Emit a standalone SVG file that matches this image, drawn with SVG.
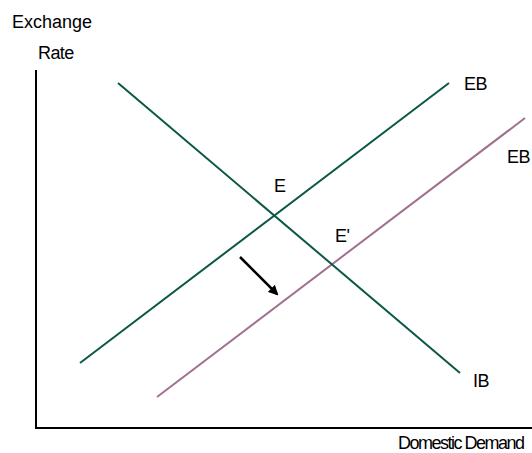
<svg xmlns="http://www.w3.org/2000/svg" width="532" height="453" viewBox="0 0 532 453">
<style>
text{font-family:"Liberation Sans",Arial,sans-serif;font-size:18px;fill:#000;letter-spacing:-0.6px}
.g{stroke:#0b5746;stroke-width:2;fill:none}
.p{stroke:#a0708f;stroke-width:2;fill:none}
.ax{stroke:#000;stroke-width:2;fill:none}
</style>
<defs>
<marker id="ah" markerWidth="10" markerHeight="10" refX="8" refY="5" orient="auto" markerUnits="userSpaceOnUse"><path d="M0,0 L10,5 L0,10 z" fill="#000"/></marker>
</defs>
<g id="axes">
<path class="ax" d="M36,70 V428 H532"/>
<text x="12" y="28" style="letter-spacing:0">Exchange</text>
<text x="38" y="59">Rate</text>
<text x="398" y="449" style="letter-spacing:-1.5px">Domestic Demand</text>
</g>
<g id="connectors">
<line id="EB1" class="g" x1="80" y1="363" x2="449" y2="83"/>
<line id="EB2" class="p" x1="157" y1="397" x2="525" y2="118"/>
<line id="IB" class="g" x1="118" y1="83" x2="460" y2="373"/>
<line id="shift" stroke="#000" stroke-width="2.5" x1="240" y1="257" x2="277" y2="294" marker-end="url(#ah)"/>
</g>
<g id="labels">
<text x="464" y="90">EB</text>
<text x="507" y="163">EB</text>
<text x="274" y="192">E</text>
<text x="335" y="242">E'</text>
<text x="473" y="387">IB</text>
</g>
</svg>
